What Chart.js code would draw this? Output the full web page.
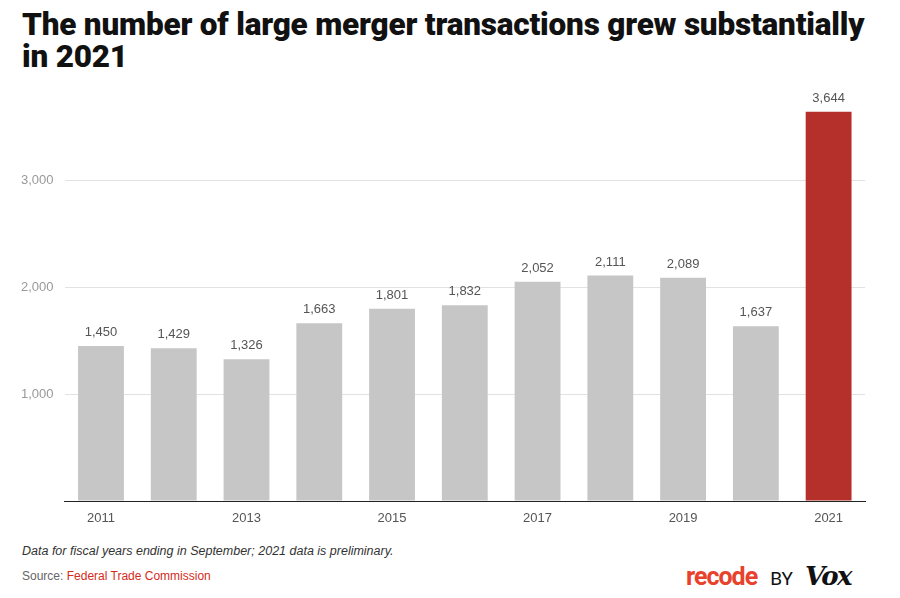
<!DOCTYPE html>
<html><head><meta charset="utf-8">
<script src="https://cdn.jsdelivr.net/npm/chart.js@4"></script>
<style>
body{margin:0;width:900px;height:598px;background:#fff;font-family:"Liberation Sans",Arial,sans-serif;position:relative;overflow:hidden}
#title{position:absolute;left:22px;top:9px;width:860px;font-family:"Roboto","Liberation Sans",sans-serif;font-weight:900;font-size:31.5px;line-height:32px;color:#111;letter-spacing:-0.2px}
#wrap{position:absolute;left:0;top:90px;width:900px;height:440px}
#note{position:absolute;left:22px;top:544px;font-size:12.5px;font-style:italic;color:#333}
#src{position:absolute;left:22px;top:569px;font-size:12px;color:#666}
#src span{color:#d52b1e}
#logo{position:absolute;left:686px;top:561px;font-size:25px;white-space:nowrap}
</style></head><body>
<div id="title">The number of large merger transactions grew substantially in 2021</div>
<div id="wrap"><canvas id="c"></canvas></div>
<div id="note">Data for fiscal years ending in September; 2021 data is preliminary.</div>
<div id="src">Source: <span>Federal Trade Commission</span></div>
<div id="logo"><span style="color:#e8412c;font-family:'Roboto',sans-serif;font-weight:700;letter-spacing:-1px">recode</span><span style="font-size:19px;color:#111;font-family:'Roboto',sans-serif;margin:0 12px 0 13px">BY</span><span style="font-family:'DejaVu Serif',serif;font-style:italic;font-weight:700;color:#111;letter-spacing:-1.5px;font-size:26px">Vox</span></div>
<script>
const years=["2011","2012","2013","2014","2015","2016","2017","2018","2019","2020","2021"];
const deals=[1450,1429,1326,1663,1801,1832,2052,2111,2089,1637,3644];
const yTicks=[0,1000,2000,3000];
const colors=deals.map((v,i)=>i===deals.length-1?'#b5302a':'#c6c6c6');
const labelPlugin={id:'vl',afterDatasetsDraw(ch){const ctx=ch.ctx;const m=ch.getDatasetMeta(0);ctx.save();ctx.font='13px "Liberation Sans", Arial';ctx.fillStyle='#555';ctx.textAlign='center';ctx.textBaseline='bottom';
m.data.forEach((b,i)=>ctx.fillText(deals[i].toLocaleString('en-US'),b.x,b.y-7));ctx.restore();}};
new Chart(document.getElementById('c'),{type:'bar',
data:{labels:years,datasets:[{data:deals,backgroundColor:colors,categoryPercentage:1,barPercentage:0.63}]},
options:{responsive:true,maintainAspectRatio:false,animation:false,
layout:{padding:{top:15,right:35,left:21,bottom:0}},
plugins:{legend:{display:false},tooltip:{enabled:false}},
scales:{
x:{grid:{display:false,drawTicks:false},border:{color:'#222',width:1},
ticks:{autoSkip:false,maxRotation:0,padding:10,color:'#555',font:{size:13,family:'"Liberation Sans", Arial'},callback:(v,i)=>i%2===0?years[i]:''},
afterFit(s){s.height=29;}},
y:{min:0,max:3700,border:{display:false},
grid:{color:'#e2e2e2',drawTicks:false},
afterBuildTicks(s){s.ticks=yTicks.map(v=>({value:v}));},
ticks:{crossAlign:'far',padding:8,color:'#999',font:{size:13,family:'"Liberation Sans", Arial'},callback:v=>v===0?'':v.toLocaleString('en-US')},
afterFit(s){s.width=43.6;}}}},
plugins:[labelPlugin]});
</script>
</body></html>
